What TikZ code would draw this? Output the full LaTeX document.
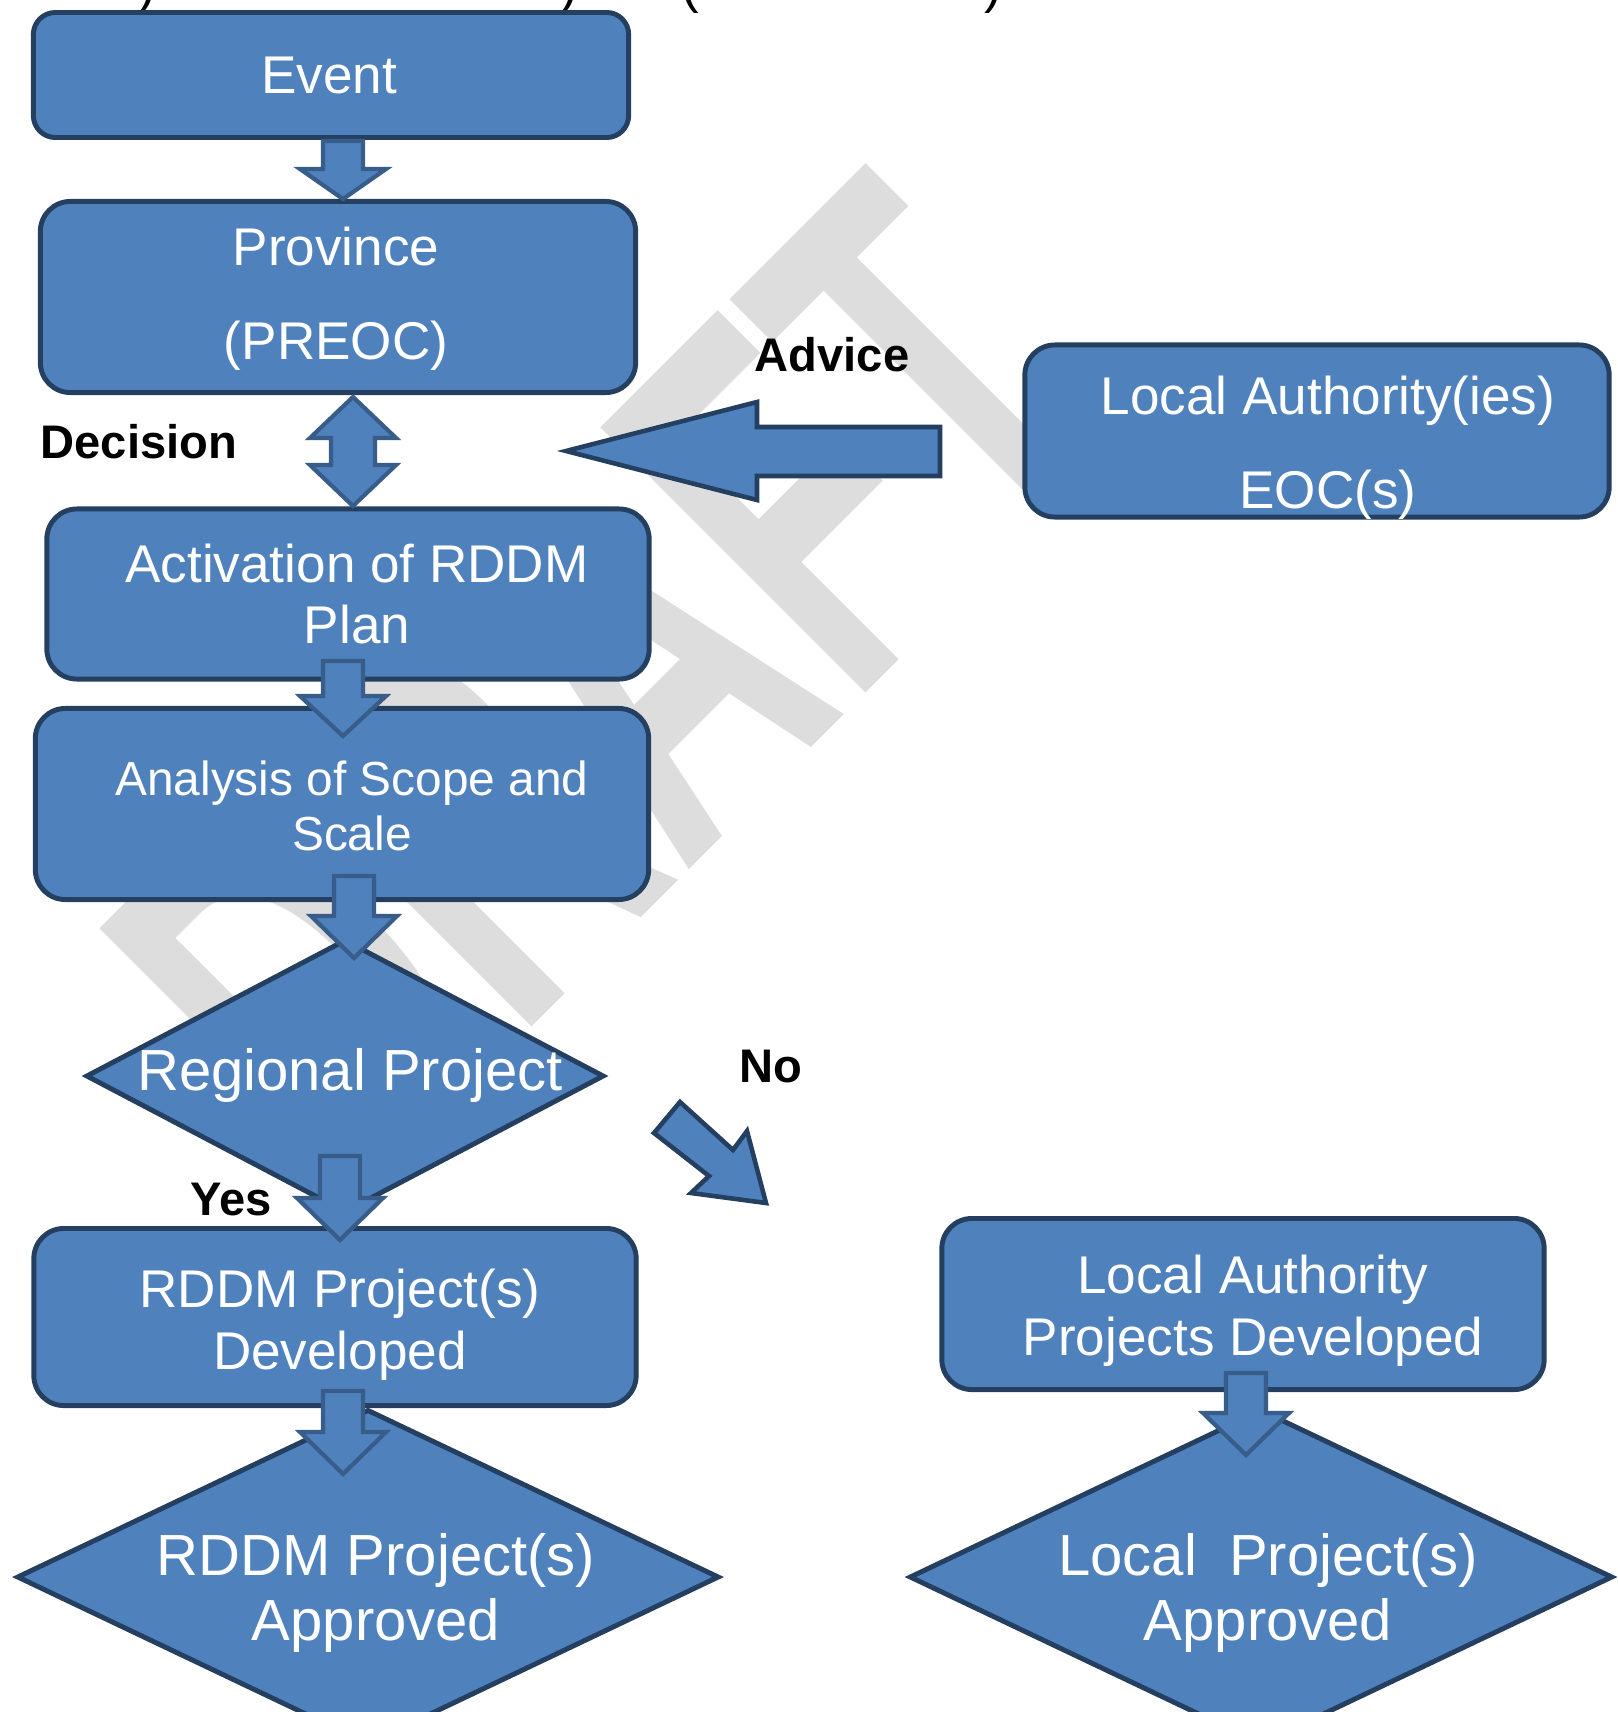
\documentclass[tikz,border=0pt]{standalone}
\usepackage{fontspec}
\setmainfont{Liberation Sans}
\usetikzlibrary{shapes.geometric}

\definecolor{boxfill}{HTML}{4F81BD}
\definecolor{boxline}{HTML}{243F60}
\definecolor{arrowline}{HTML}{385D8A}
\definecolor{draftgray}{RGB}{221,221,221}

% block arrow pointing down: x, top, tip, head length
\newcommand{\downblock}[4]{%
	\draw [blockarrow] ( #1-20, #2 ) -- ( #1+20, #2 ) -- ( #1+20, #3-#4 ) -- ( #1+43, #3-#4 ) -- ( #1, #3 ) -- ( #1-43, #3-#4 ) -- ( #1-20, #3-#4 ) -- cycle;
}

\begin{document}
\begin{tikzpicture}[x=0.01cm, y=-0.01cm,
	box/.style={draw=boxline, fill=boxfill, line width=1.4pt, rounded corners=0.3cm, inner sep=0pt},
	decision/.style={diamond, draw=boxline, fill=boxfill, line width=1.4pt, inner sep=0pt},
	btext/.style={text=white, align=center, inner sep=0pt, font=\fontsize{15.1}{17.5}\selectfont},
	dtext/.style={text=white, align=center, inner sep=0pt, font=\fontsize{16.5}{18.5}\selectfont},
	blockarrow/.style={draw=arrowline, fill=boxfill, line width=1.2pt},
	bigarrow/.style={draw=boxline, fill=boxfill, line width=1.3pt},
	remark/.style={inner sep=0pt, font=\fontsize{13.4}{16}\selectfont\bfseries},
	cut/.style={anchor=base, inner sep=0pt, font=\fontsize{15.1}{18}\selectfont}]
	\useasboundingbox ( 0, 0 ) rectangle ( 1617, 1712 );

	% watermark
	\node [rotate=45, xscale=0.6, text=draftgray, inner sep=0pt, font=\fontsize{155}{155}\selectfont\bfseries] (draft) at ( 609, 685 ) {DRAFT};

	% line cut off at the top
	\node [cut] (cuta) at ( 147, 2 ) {)};
	\node [cut] (cutb) at ( 569, 2 ) {)};
	\node [cut] (cutc) at ( 690, 2 ) {(};
	\node [cut] (cutd) at ( 993, 2 ) {)};

	% left column
	\node [box, minimum width=5.95cm, minimum height=1.25cm, rounded corners=0.22cm] (event) at ( 331, 75 ) {};
	\node [btext] (eventtxt) at ( 329, 75 ) {Event};
	\node [box, minimum width=5.95cm, minimum height=1.91cm] (preoc) at ( 338, 297 ) {};
	\node [btext, font=\fontsize{15.1}{26.7}\selectfont] (preoctxt) at ( 336, 299 ) {Province\\(PREOC)};
	\node [box, minimum width=6.02cm, minimum height=1.70cm] (activ) at ( 348, 594 ) {};
	\node [btext] (activtxt) at ( 357, 594 ) {Activation of RDDM\\Plan};
	\node [box, minimum width=6.13cm, minimum height=1.91cm] (scope) at ( 342, 804 ) {};
	\node [btext, font=\fontsize{13.6}{15.6}\selectfont] (scopetxt) at ( 352, 806 ) {Analysis of Scope and\\Scale};
	\node [decision, minimum width=5.18cm, minimum height=2.73cm] (regional) at ( 345, 1076 ) {};
	\node [dtext] (regionaltxt) at ( 350, 1075 ) {Regional Project};
	\node [box, minimum width=6.02cm, minimum height=1.77cm] (rddmdev) at ( 335, 1317 ) {};
	\node [btext] (rddmdevtxt) at ( 340, 1325 ) {RDDM Project(s)\\Developed};
	\node [decision, minimum width=7.02cm, minimum height=3.35cm] (rddmok) at ( 368, 1577 ) {};
	\node [dtext] (rddmoktxt) at ( 376, 1593 ) {RDDM Project(s)\\Approved};

	% right column
	\node [box, minimum width=5.84cm, minimum height=1.72cm] (laeoc) at ( 1317, 431 ) {};
	\node [btext, font=\fontsize{15.1}{26.7}\selectfont] (laeoctxt) at ( 1328, 448 ) {Local Authority(ies)\\EOC(s)};
	\node [box, minimum width=6.02cm, minimum height=1.71cm] (ladev) at ( 1243, 1304 ) {};
	\node [btext] (ladevtxt) at ( 1253, 1311 ) {Local Authority\\Projects Developed};
	\node [decision, minimum width=7.03cm, minimum height=3.35cm] (laok) at ( 1261, 1577 ) {};
	\node [dtext] (laoktxt) at ( 1268, 1593 ) {Local~~Project(s)\\Approved};

	% arrows
	\downblock{343}{141}{199}{30}
	\draw [blockarrow] ( 353, 397 ) -- ( 396, 438 ) -- ( 375, 438 ) -- ( 375, 465 ) -- ( 396, 465 ) -- ( 353, 506 ) -- ( 310, 465 ) -- ( 331, 465 ) -- ( 331, 438 ) -- ( 310, 438 ) -- cycle;
	\downblock{343}{661}{736}{40}
	\downblock{354}{876}{958}{42}
	\downblock{340}{1156}{1240}{42}
	\downblock{343}{1391}{1474}{42}
	\downblock{1246}{1373}{1455}{42}
	\draw [bigarrow] ( 940, 427 ) -- ( 757, 427 ) -- ( 757, 402 ) -- ( 566, 451 ) -- ( 757, 500 ) -- ( 757, 476 ) -- ( 940, 476 ) -- cycle;
	\draw [bigarrow] ( 680, 1102 ) -- ( 654, 1133 ) -- ( 709, 1176 ) -- ( 691, 1193 ) -- ( 766, 1203 ) -- ( 747, 1131 ) -- ( 733, 1150 ) -- cycle;

	% labels
	\node [remark, anchor=west] (decision) at ( 40, 442 ) {Decision};
	\node [remark] (advice) at ( 832, 355 ) {Advice};
	\node [remark] (no) at ( 771, 1067 ) {No};
	\node [remark] (yes) at ( 231, 1200 ) {Yes};
\end{tikzpicture}
\end{document}
